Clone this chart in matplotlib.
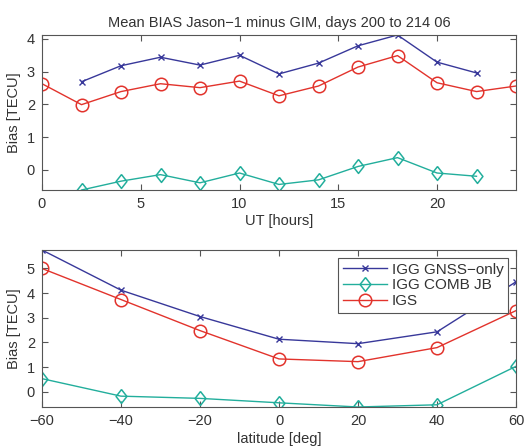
import numpy as np
import matplotlib
matplotlib.use("Agg")
import matplotlib.pyplot as plt

plt.rcParams['font.family'] = ['Liberation Sans', 'DejaVu Sans']

# --- top panel: bias vs UT ---
ut_igg = [2, 4, 6, 8, 10, 12, 14, 16, 18, 20, 22]
ut_igs = [0, 2, 4, 6, 8, 10, 12, 14, 16, 18, 20, 22, 24]
ut_gnss = [2.69, 3.18, 3.44, 3.20, 3.50, 2.93, 3.26, 3.79, 4.12, 3.29, 2.96]
ut_comb = [-0.62, -0.35, -0.15, -0.40, -0.10, -0.45, -0.31, 0.10, 0.37, -0.10, -0.20]
ut_igs_vals = [2.63, 1.99, 2.39, 2.63, 2.51, 2.71, 2.26, 2.56, 3.14, 3.49, 2.66, 2.39, 2.56]

# --- bottom panel: bias vs latitude ---
lat = [-60, -40, -20, 0, 20, 40, 60]
lat_gnss = [5.75, 4.12, 3.05, 2.13, 1.95, 2.43, 4.46]
lat_comb = [0.53, -0.18, -0.27, -0.45, -0.62, -0.53, 1.03]
lat_igs_vals = [5.00, 3.74, 2.48, 1.33, 1.22, 1.79, 3.29]

c_blue = '#38389a'
c_teal = '#22ae9c'
c_red = '#e2332c'
c_text = '#333333'

# diamond a bit wider than matplotlib's thin 'd'
diamond = [(0, 1), (0.78, 0), (0, -1), (-0.78, 0), (0, 1)]

fig = plt.figure(figsize=(5.25, 4.46), dpi=100)
ax1 = fig.add_axes([42/525, 1-190/446, 474/525, 155/446])
ax2 = fig.add_axes([42/525, 1-407/446, 474/525, 157/446])


def style(ax):
    for s in ax.spines.values():
        s.set_color('#555555')
        s.set_linewidth(0.8)
    ax.tick_params(direction='in', top=True, right=True, length=4,
                   width=0.8, color='#555555', labelsize=10.5,
                   labelcolor=c_text, pad=5)
    ax.margins(x=0, y=0)


def draw(ax, x1, y1, x2, y2, x3, y3):
    ax.plot(x1, y1, color=c_blue, marker='x', ms=5, mew=1.0, lw=1.0,
            label='IGG GNSS\u2212only')
    ax.plot(x2, y2, color=c_teal, marker=diamond, ms=10, mfc='none', mew=1.1,
            lw=1.0, label='IGG COMB JB')
    ax.plot(x3, y3, color=c_red, marker='o', ms=9, mfc='none', mew=1.1,
            lw=1.0, label='IGS')


draw(ax1, ut_igg, ut_gnss, ut_igg, ut_comb, ut_igs, ut_igs_vals)
style(ax1)
ax1.set_xlim(0, 24)
ax1.set_xticks([0, 5, 10, 15, 20])
ax1.set_yticks([0, 1, 2, 3, 4])
ax1.set_xlabel('UT [hours]', fontsize=10.5, color=c_text, labelpad=2)
ax1.set_ylabel('Bias [TECU]', fontsize=10.5, color=c_text, labelpad=4)
ax1.set_title('Mean BIAS Jason\u22121 minus GIM, days 200 to 214 06',
              fontsize=10.5, color=c_text, pad=6)

draw(ax2, lat, lat_gnss, lat, lat_comb, lat, lat_igs_vals)
style(ax2)
ax2.set_xlim(-60, 60)
ax2.set_xticks([-60, -40, -20, 0, 20, 40, 60])
ax2.set_xticklabels(['\u221260', '\u221240', '\u221220', '0', '20', '40', '60'])
ax2.set_yticks([0, 1, 2, 3, 4, 5])
ax2.set_xlabel('latitude [deg]', fontsize=10.5, color=c_text, labelpad=3)
ax2.set_ylabel('Bias [TECU]', fontsize=10.5, color=c_text, labelpad=4)
leg = ax2.legend(loc='upper right', bbox_to_anchor=(466/474, 149/157),
                 fontsize=11, fancybox=False, framealpha=1,
                 edgecolor='#555555', borderpad=0.3, handlelength=2.9,
                 handletextpad=0.3, labelspacing=0.12, borderaxespad=0)
leg.get_frame().set_linewidth(0.8)
for t in leg.get_texts():
    t.set_color(c_text)

fig.savefig('out.png', dpi=100)
